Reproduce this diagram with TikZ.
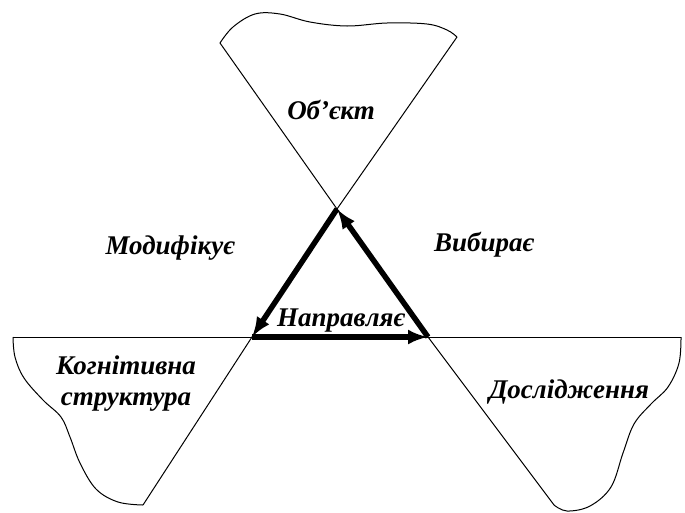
\documentclass[tikz,border=0pt]{standalone}
\usepackage{fontspec}
\setmainfont{Liberation Serif}
\usetikzlibrary{arrows.meta}
\tikzset{
  thin line/.style={line width=1pt, black},
  thick arrow/.style={line width=5.5pt, black, line cap=butt, -{Latex[length=20pt,width=15pt]}},
  label text/.style={font=\fontsize{27}{31}\selectfont\bfseries\itshape, inner sep=0pt, align=center}
}
\begin{document}
\begin{tikzpicture}[x=1pt,y=-1pt]
\useasboundingbox (0,0) rectangle (685,512);
% end points of long lines
\coordinate (tl) at (220,43);
\coordinate (tr) at (457,37);
\coordinate (bl) at (143,505);
\coordinate (br) at (554,505);
\coordinate (hl) at (13,337);
\coordinate (hr) at (681,337);
% triangle vertices
\coordinate (vt) at (337,209);
\coordinate (vl) at (252,337);
\coordinate (vr) at (428,337);
% long lines
\draw[thin line] (tl) -- (vt) -- (vr) -- (br);
\draw[thin line] (tr) -- (vt) -- (vl) -- (bl);
\draw[thin line] (hl) -- (hr);
% wavy edges
\draw[thin line] plot[smooth,tension=0.6] coordinates {(tl) (233,27) (255,14) (280,14) (310,22) (347,26) (387,23) (427,24) (447,30) (tr)};
\draw[thin line] plot[smooth,tension=0.6] coordinates {(hl) (15,357) (24,378) (43,400) (61,417) (70,437) (80,463) (96,489) (118,502) (bl)};
\draw[thin line] plot[smooth,tension=0.6] coordinates {(hr) (679,363) (668,387) (651,404) (634,424) (623,453) (611,487) (590,506) (567,511) (br)};
% triangle arrows
\draw[thick arrow] (vt) -- (vl);
\draw[thick arrow] (vl) -- (vr);
\draw[thick arrow] (vr) -- (vt);
% labels
\node[label text] (obj) at (331,110) {Об’єкт};
\node[label text] (mod) at (170,248) {Модифікує};
\node[label text] (vyb) at (484,245) {Вибирає};
\node[label text] (nap) at (341,321) {Направляє};
\node[label text] (kog) at (126,384) {Когнітивна\\структура};
\node[label text] (dos) at (569,392) {Дослідження};
\end{tikzpicture}
\end{document}
